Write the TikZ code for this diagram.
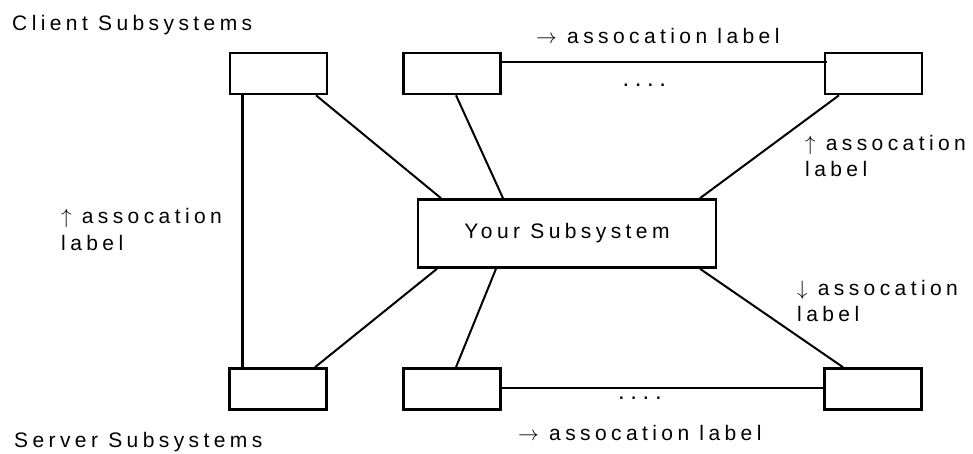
\documentclass[tikz,border=0pt]{standalone}
\usepackage{fontspec}
\setmainfont{Liberation Sans}[LetterSpace=21]
\usetikzlibrary{calc}

% two lines of a label, aligned on the baseline of the first one
\newcommand\twoline[2]{\vtop{\baselineskip=26pt\lineskiplimit=-100pt\hbox{#1}\hbox{#2}}}
% a row of four spaced dots
\newcommand\fourdots{.\hspace{5.6pt}.\hspace{5.6pt}.\hspace{5.6pt}.}

\tikzset{
  sub/.style={draw, line width=2.6pt, minimum width=97pt, minimum height=41pt, inner sep=0pt},
  link/.style={line width=2pt},
  lbl/.style={inner sep=0pt, anchor=base west, font=\fontsize{21}{26}\selectfont},
  dots/.style={lbl, font=\fontsize{24}{26}\selectfont},
}

\begin{document}
\begin{tikzpicture}[x=1pt,y=-1pt]
\useasboundingbox (0,0) rectangle (973,454);

% subsystem boxes
\node[sub] (tl) at (278.5,73.5) {};
\node[sub] (tm) at (452,73.5) {};
\node[sub] (tr) at (873.5,73.5) {};
\node[sub] (bl) at (278,389) {};
\node[sub] (bm) at (452,389) {};
\node[sub] (br) at (873,389) {};
\node[sub, minimum width=298pt, minimum height=68pt, font=\fontsize{21}{24}\selectfont] (me) at (567,233.5) {Your Subsystem};

% associations
\draw[line width=3pt] ([xshift=-36.5pt]tl.south) -- ([xshift=-36pt]bl.north);
\draw[link] ([xshift=37.5pt]tl.south) -- ([xshift=-126pt]me.north);
\draw[link] ([xshift=4pt]tm.south) -- ([xshift=-64pt]me.north);
\draw[link] ([xshift=-34.5pt]tr.south) -- ([xshift=133pt]me.north);
\draw[link] ([xshift=-130pt]me.south) -- ([xshift=37pt]bl.north);
\draw[link] ([xshift=-71pt]me.south) -- ([xshift=4pt]bm.north);
\draw[link] ([xshift=133pt]me.south) -- ([xshift=-30pt]br.north);
\draw[link] ([yshift=11.5pt]tm.east) -- ([yshift=11.5pt,xshift=3pt]tr.west);
\draw[link] ([yshift=1pt]bm.east) -- ([yshift=1pt,xshift=3pt]br.west);

% labels
\node[lbl] (client) at (12,31) {Client Subsystems};
\node[lbl] (server) at (14,447) {Server Subsystems};
\node[lbl] (topassoc) at (536,44) {$\rightarrow$ assocation label};
\node[lbl] (botassoc) at (518,440) {$\rightarrow$ assocation label};
\node[lbl] (leftassoc) at (61,224) {\twoline{$\uparrow$ assocation}{label}};
\node[lbl] (trassoc) at (805,151) {\twoline{$\uparrow$ assocation}{label}};
\node[lbl] (brassoc) at (797,295) {\twoline{$\downarrow$ assocation}{label}};
\node[dots] (topdots) at (622.3,86.5) {\fourdots};
\node[dots] (botdots) at (618,399.5) {\fourdots};
\end{tikzpicture}
\end{document}
